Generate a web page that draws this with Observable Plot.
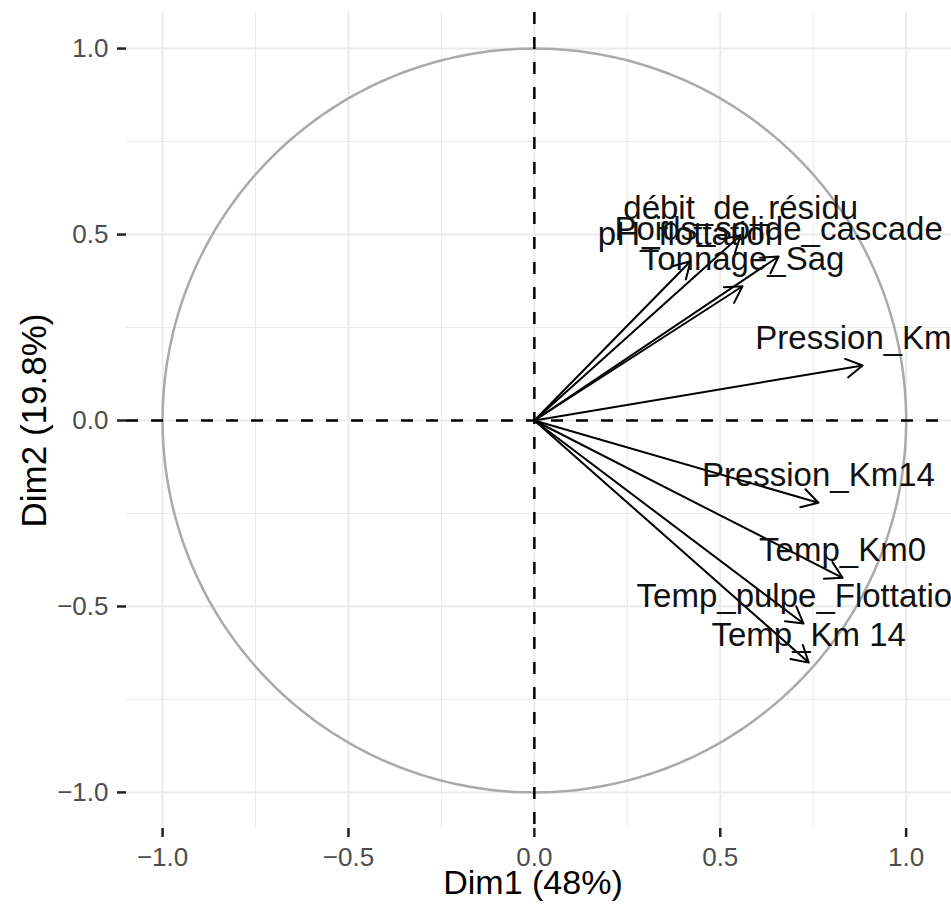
<!DOCTYPE html>
<html><head><meta charset="utf-8">
<script src="https://cdn.jsdelivr.net/npm/d3@7"></script>
<script src="https://cdn.jsdelivr.net/npm/@observablehq/plot@0.6"></script>
<style>
body{margin:0;background:#fff}
svg{font-family:"Liberation Sans",Arial,Helvetica,sans-serif}
</style>
</head><body><div id="chart"></div>
<script>
// Variables and their coordinates on the first two dimensions
const variables = ["débit_de_résidu","pH_flottation","Poids_solide_cascade","Tonnage_Sag","Pression_Km0","Pression_Km14","Temp_Km0","Temp_pulpe_Flottation","Temp_Km 14"];
const dim1 = [0.555, 0.420, 0.657, 0.560, 0.883, 0.764, 0.829, 0.724, 0.738];
const dim2 = [0.498, 0.428, 0.441, 0.361, 0.148, -0.221, -0.423, -0.546, -0.651];
const majorTicks = [-1, -0.5, 0, 0.5, 1];
const minorTicks = [-0.75, -0.25, 0.25, 0.75];
const xLabel = "Dim1 (48%)";
const yLabel = "Dim2 (19.8%)";

const data = variables.map((v, i) => ({name: v, x: dim1[i], y: dim2[i]}));
// unit correlation circle (reference geometry)
const circle = d3.range(0, 361, 1).map(a => ({x: Math.cos(a * Math.PI / 180), y: Math.sin(a * Math.PI / 180)}));
const fmt = d => d3.format(".1f")(d).replace("-", "\u2212");

const chart = Plot.plot({
  width: 951,
  height: 906,
  marginLeft: 126,
  marginRight: 0,
  marginTop: 12,
  marginBottom: 78,
  x: {domain: [-1.097, 1.122]},
  y: {domain: [-1.097, 1.097]},
  style: {background: "#fff", fontFamily: "'Liberation Sans', Arial, sans-serif"},
  marks: [
    Plot.ruleX(minorTicks, {stroke: "#ebebeb", strokeWidth: 1}),
    Plot.ruleY(minorTicks, {stroke: "#ebebeb", strokeWidth: 1}),
    Plot.ruleX(majorTicks, {stroke: "#ebebeb", strokeWidth: 2}),
    Plot.ruleY(majorTicks, {stroke: "#ebebeb", strokeWidth: 2}),
    Plot.line(circle, {x: "x", y: "y", stroke: "#aaaaaa", strokeWidth: 2.5}),
    Plot.ruleX([0], {stroke: "#000", strokeWidth: 2.5, strokeDasharray: "12,13"}),
    Plot.ruleY([0], {stroke: "#000", strokeWidth: 2.5, strokeDasharray: "12,13"}),
    Plot.arrow(data, {x1: () => 0, y1: () => 0, x2: "x", y2: "y", stroke: "#000", strokeWidth: 2, headLength: 14, headAngle: 60}),
    Plot.text(data, {x: "x", y: "y", text: "name", dy: -27, fontSize: 33, fill: "#111", textAnchor: "middle"}),
    Plot.axisX(majorTicks, {tickSize: 9, tickPadding: 10, fontSize: 26, fill: "#4d4d4d", stroke: "#222", strokeWidth: 2.5, label: null, tickFormat: fmt}),
    Plot.axisY(majorTicks, {tickSize: 9, tickPadding: 9, fontSize: 26, fill: "#4d4d4d", stroke: "#222", strokeWidth: 2.5, label: null, tickFormat: fmt}),
    Plot.text([xLabel], {frameAnchor: "bottom", dy: 65, dx: -6, fontSize: 34, fill: "#000", textAnchor: "middle"}),
    Plot.text([yLabel], {frameAnchor: "left", dx: -92, rotate: -90, fontSize: 35, fill: "#000", textAnchor: "middle"})
  ]
});
document.getElementById("chart").appendChild(chart);
</script>
</body></html>
